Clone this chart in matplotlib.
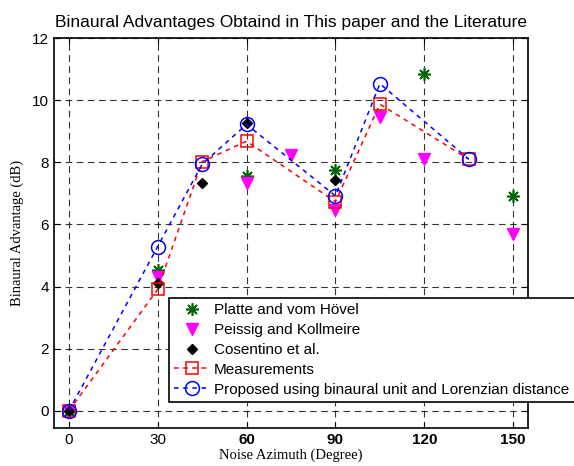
import matplotlib.pyplot as plt

# data
az_platte = [0, 30, 60, 90, 120, 150]
val_platte = [0, 4.52, 7.55, 7.75, 10.85, 6.93]

az_peissig = [0, 30, 60, 75, 90, 105, 120, 150]
val_peissig = [0, 4.3, 7.33, 8.24, 6.47, 9.45, 8.12, 5.7]

az_cosentino = [0, 30, 45, 60, 90]
val_cosentino = [0, 4.1, 7.33, 9.25, 7.43]

az_meas = [0, 30, 45, 60, 90, 105, 135]
val_meas = [0, 3.91, 8.02, 8.68, 6.73, 9.87, 8.1]

az_prop = [0, 30, 45, 60, 90, 105, 135]
val_prop = [0, 5.29, 7.94, 9.22, 6.92, 10.53, 8.1]

xticks = [0, 30, 60, 90, 120, 150]
yticks = [0, 2, 4, 6, 8, 10, 12]

plt.rcParams['font.family'] = ['Liberation Sans', 'DejaVu Sans']

fig = plt.figure(figsize=(5.74, 4.66), dpi=100)
ax = fig.add_axes([54 / 574, 1 - 428 / 466, 474 / 574, 390 / 466])

ax.plot(az_platte, val_platte, ls='none', marker=(8, 2, 0), color='#006400',
        ms=9, mew=1.2, label='Platte and vom H\u00f6vel')
ax.plot(az_peissig, val_peissig, ls='none', marker='v', color='magenta',
        ms=8, label='Peissig and Kollmeire')
ax.plot(az_cosentino, val_cosentino, ls='none', marker='D', color='black',
        ms=5.5, label='Cosentino et al.')
ax.plot(az_meas, val_meas, ls='--', marker='s', color='red', mfc='none',
        ms=8.5, lw=1.1, mew=1.1, dashes=(3, 3), label='Measurements')
ax.plot(az_prop, val_prop, ls='--', marker='o', color='blue', mfc='none',
        ms=10, lw=1.1, mew=1.1, dashes=(3, 3),
        label='Proposed using binaural unit and Lorenzian distance')

ax.set_xlim(-5, 155)
ax.set_ylim(-0.55, 12)
ax.set_xticks(xticks)
ax.set_yticks(yticks)
ax.tick_params(direction='in', top=True, right=True, labelsize=11, length=4)
for lab in ax.get_xticklabels()[2:]:
    lab.set_fontweight('bold')
ax.grid(True, color='black', ls=(0, (6, 4)), lw=0.8, alpha=0.8)
for s in ax.spines.values():
    s.set_linewidth(1.2)

ax.set_title('Binaural Advantages Obtaind in This paper and the Literature',
             fontsize=12.5, pad=8)
ax.set_xlabel('Noise Azimuth (Degree)', family='Liberation Serif', fontsize=10.5,
              labelpad=1)
ax.set_ylabel('Binaural Advantage (dB)', family='Liberation Serif', fontsize=10.5,
              labelpad=6)

leg = ax.legend(loc='upper left', bbox_to_anchor=(169 / 574, 1 - 298 / 466),
                bbox_transform=fig.transFigure, fontsize=11, fancybox=False,
                framealpha=1, edgecolor='black', borderpad=0.35,
                labelspacing=0.38, handlelength=2.3, handletextpad=0.3,
                borderaxespad=0)
leg.get_frame().set_linewidth(1.2)

fig.savefig('out.png', dpi=100)
